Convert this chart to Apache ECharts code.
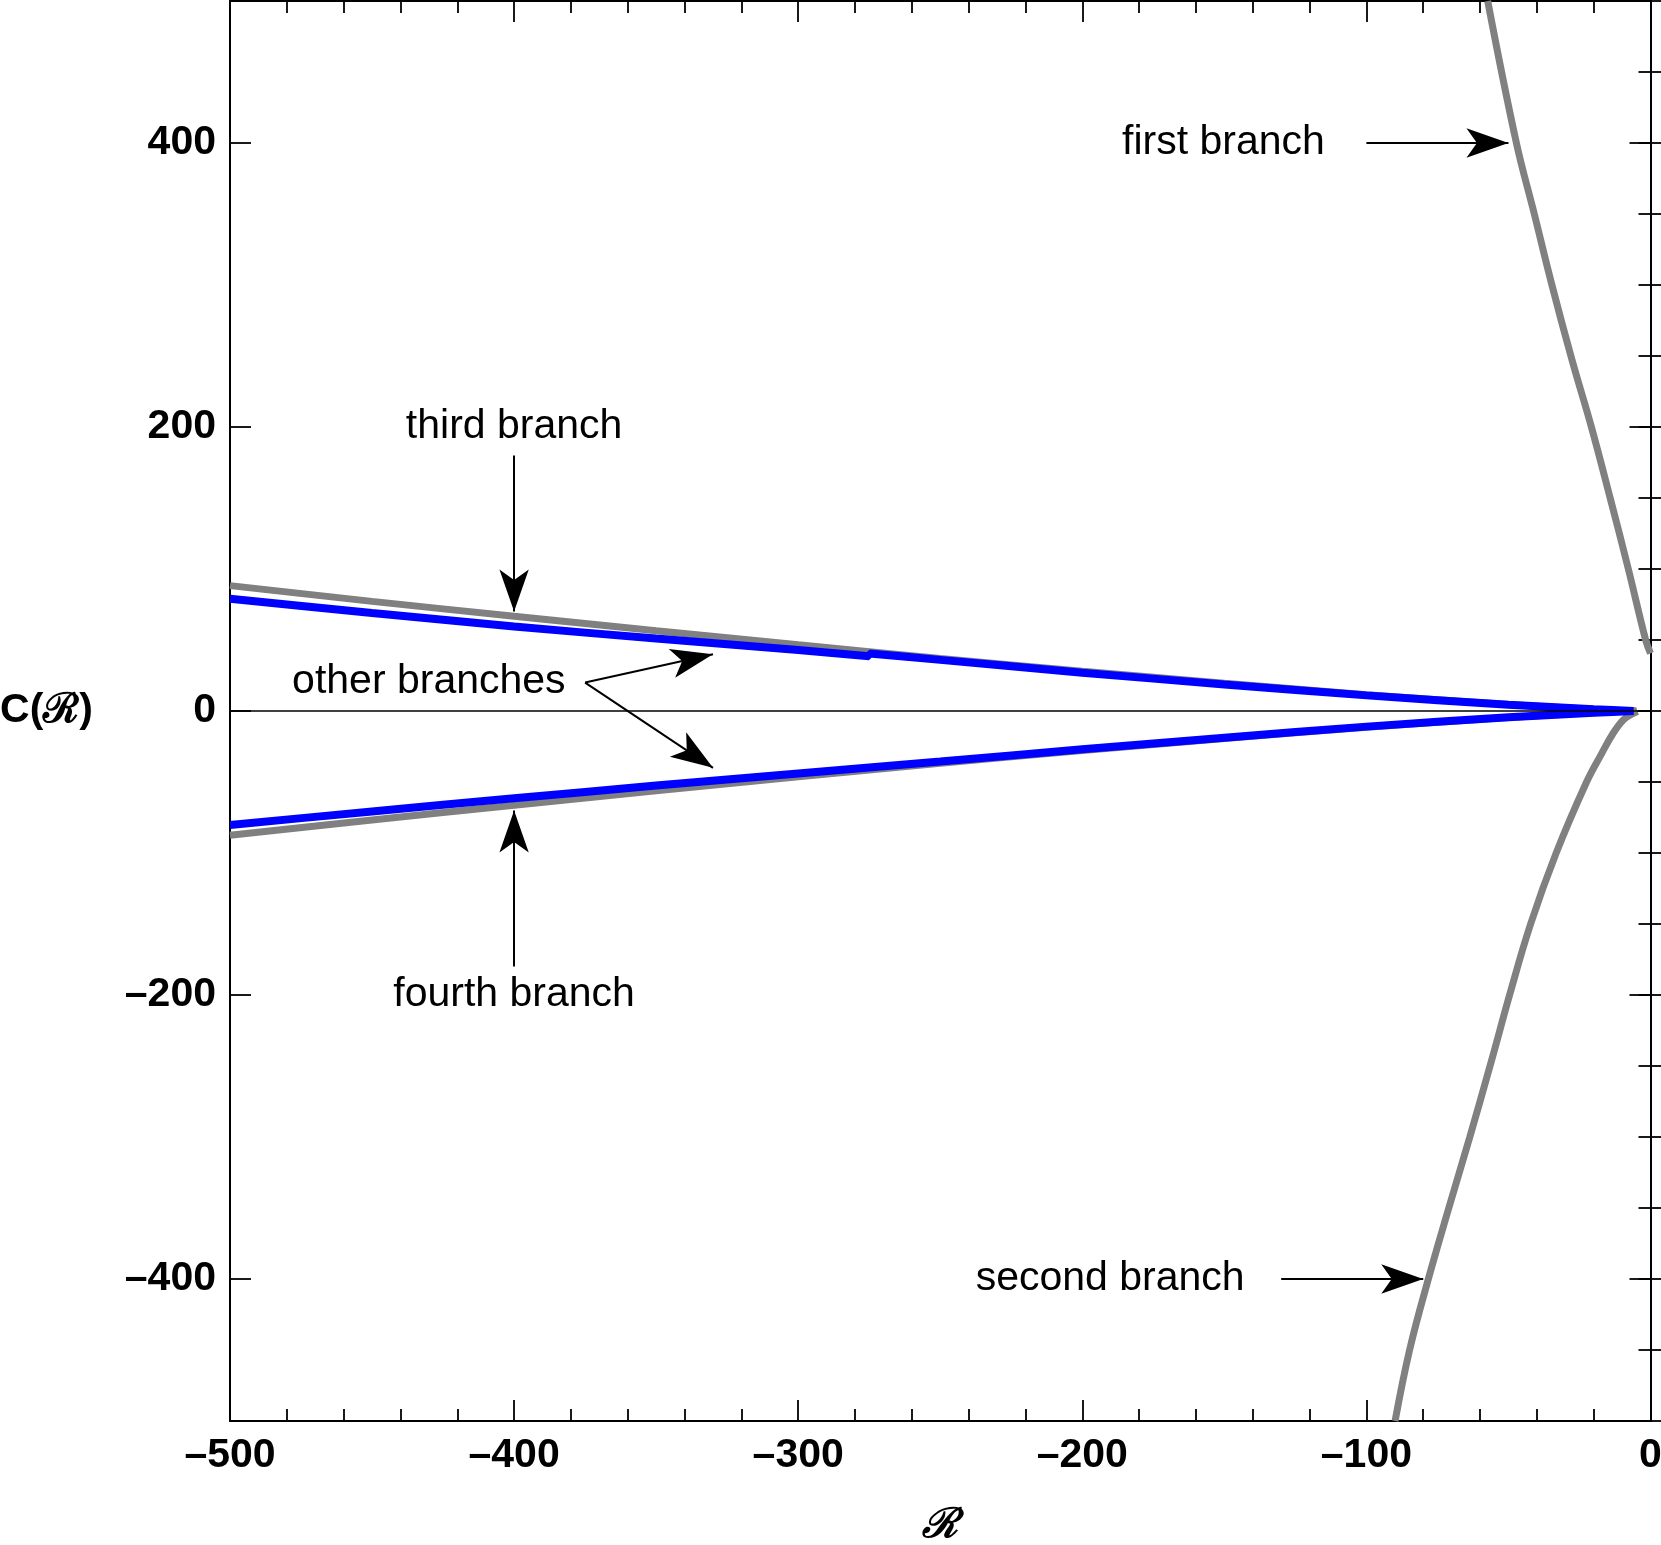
<!DOCTYPE html>
<html>
<head>
<meta charset="utf-8">
<title>C(R) branches</title>
<script src="https://cdn.jsdelivr.net/npm/echarts@6/dist/echarts.min.js"></script>
</head>
<body style="margin:0">
<div id="container" style="width:1661px;height:1545px"></div>
<script>
// gray branches
var firstR  = [-57.3, -47.2, -40.9, -34.7, -27.6, -20.8, -14.2, -7.8, -1.7, 0];
var firstC  = [500, 400, 350, 300, 247, 200, 150, 100, 50, 40.6];
var secondR = [-89.9, -84.8, -78.2, -71.0, -63.6, -55.9, -49.6, -42.2, -33.2, -22.5, -17.2, -13.1, -9.6, -6.6, -4.5];
var secondC = [-500, -450, -400, -350, -300, -245.8, -200, -150, -100, -50, -30, -15.5, -6.3, -2.3, -0.4];
var thirdR  = [-500, -450, -400, -350, -300, -250, -200, -150, -100, -50, -20, -5];
var thirdC  = [88.3, 77.2, 66.7, 56.5, 46.6, 37, 28, 19.5, 11.5, 4.6, 1.2, 0];
var fourthC = [-87.5, -76.8, -66.3, -56.2, -46.4, -36.8, -27.8, -19.4, -11.4, -4.6, -1.2, 0];
// blue "other branches"
var upperR = [-500, -450, -400, -350, -300, -275, -275, -250, -200, -150, -100, -50, -20, -6];
var upperC = [79, 69, 59.5, 51, 43, 38.5, 40.5, 36, 27, 18.7, 11, 4.4, 1.3, 0];
var lowerR = [-500, -450, -400, -350, -300, -250, -200, -150, -100, -50, -20, -6];
var lowerC = [-80.3, -70.7, -61.5, -52.5, -44, -35.6, -27, -18.8, -11, -4.4, -1.3, 0];

var yLabelValues = [-400, -200, 0, 200, 400];

// annotations: [R, C, text]
var notes = [
  [-150.3, 400, 'first branch'],
  [-190.2, -400, 'second branch'],
  [-400, 200, 'third branch'],
  [-400, -200, 'fourth branch'],
  [-430, 20.5, 'other branches']
];
// arrows: [fromR, fromC, toR, toC]
var arrows = [
  [-100, 400, -50, 400],
  [-130, -400, -80, -400],
  [-400, 180, -400, 70],
  [-400, -180, -400, -70],
  [-375, 20, -330, 40],
  [-375, 20, -330, -40]
];

function zip(a, b) {
  var out = [];
  for (var i = 0; i < a.length; i++) out.push([a[i], b[i]]);
  return out;
}
function dash(v) { return v < 0 ? '\u2013' + (-v) : String(v); }

var font = 'Liberation Sans, Arial, sans-serif';
var black = {color: '#000', width: 2};

function xAxisDef(pos) {
  return {
    type: 'value', position: pos, min: -500, max: 0, interval: 100,
    axisLine: {show: true, onZero: false, lineStyle: black},
    axisTick: {show: true, inside: true, length: 21, lineStyle: {color: '#000', width: 1.8}},
    minorTick: {show: true, splitNumber: 5, length: 12, lineStyle: {color: '#000', width: 1.8}},
    axisLabel: {show: pos === 'bottom', formatter: dash, margin: 14, color: '#000',
      fontSize: 41, fontWeight: 'bold', fontFamily: font, showMinLabel: true, showMaxLabel: true},
    splitLine: {show: false}, minorSplitLine: {show: false}
  };
}
function yMajor(pos) {
  return {
    type: 'value', position: pos, min: -500, max: 500,
    axisLine: {show: true, onZero: false, lineStyle: black},
    axisTick: {show: true, inside: true, length: 21, customValues: yLabelValues, lineStyle: {color: '#000', width: 1.8}},
    axisLabel: {show: pos === 'left', customValues: yLabelValues, formatter: dash, margin: 14, color: '#000',
      fontSize: 41, fontWeight: 'bold', fontFamily: font},
    splitLine: {show: false}
  };
}
function yMinor(pos) {
  return {
    type: 'value', position: pos, min: -500, max: 500, interval: 50,
    axisLine: {show: false},
    axisTick: {show: true, inside: true, length: 12, lineStyle: {color: '#000', width: 1.8}},
    axisLabel: {show: false},
    splitLine: {show: false}
  };
}

var xBottom = xAxisDef('bottom');
xBottom.name = '\u211B';
xBottom.nameLocation = 'middle';
xBottom.nameGap = 84;
xBottom.nameTextStyle = {fontSize: 41, fontWeight: 'bold', fontStyle: 'italic', color: '#000', fontFamily: font};

var yLeft = yMajor('left');
yLeft.name = 'C(\u211B)';
yLeft.nameLocation = 'middle';
yLeft.nameRotate = 0;
yLeft.nameGap = 137;
yLeft.nameTextStyle = {fontSize: 41, fontWeight: 'bold', color: '#000', fontFamily: font};

function curve(data, color, width, smooth) {
  return {
    type: 'line', data: data, showSymbol: false, symbol: 'none', smooth: smooth,
    lineStyle: {color: color, width: width}, silent: true
  };
}

var arrowLines = arrows.map(function (a) {
  return [{coord: [a[0], a[1]]}, {coord: [a[2], a[3]]}];
});

var myChart = echarts.init(document.getElementById('container'));
var option = {
  animation: false,
  backgroundColor: '#fff',
  grid: {left: 230, right: 10.5, top: 1, bottom: 124, containLabel: false, outerBoundsMode: 'none'},
  xAxis: [xBottom, xAxisDef('top')],
  yAxis: [yLeft, yMinor('left'), yMajor('right'), yMinor('right')],
  series: [
    curve(zip(firstR, firstC), '#808080', 7, 0.4),
    curve(zip(secondR, secondC), '#808080', 7, 0.4),
    curve(zip(thirdR, thirdC), '#808080', 7, 0.2),
    curve(zip(thirdR, fourthC), '#808080', 7, 0.2),
    curve(zip(upperR, upperC), '#0000ff', 8, 0.2),
    curve(zip(lowerR, lowerC), '#0000ff', 8, 0.2),
    {
      type: 'line', data: [], silent: true,
      markLine: {
        silent: true, symbol: 'none', label: {show: false},
        lineStyle: {color: '#000', width: 1.6, type: 'solid'},
        data: [{yAxis: 0}]
      }
    },
    {
      type: 'line', data: [], silent: true,
      markLine: {
        silent: true, symbol: ['none', 'arrow'], symbolSize: [22, 42],
        label: {show: false},
        lineStyle: {color: '#000', width: 2, type: 'solid'},
        data: arrowLines
      }
    },
    {
      type: 'scatter', symbolSize: 0, silent: true,
      itemStyle: {opacity: 1},
      data: notes,
      label: {
        show: true, position: 'top', distance: 0, verticalAlign: 'middle', align: 'center',
        formatter: function (p) { return p.data[2]; },
        color: '#000', opacity: 1, fontSize: 41, fontFamily: font
      }
    }
  ]
};
myChart.setOption(option);
</script>
</body>
</html>
